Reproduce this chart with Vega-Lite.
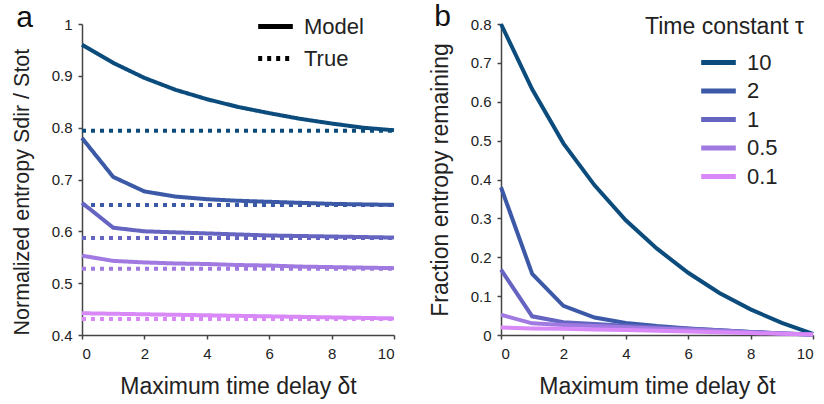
{
  "$schema": "https://vega.github.io/schema/vega-lite/v6.json",
  "padding": {"left": 11, "top": 2, "right": 5, "bottom": 5},
  "spacing": 27,
  "config": {
    "font": "Liberation Sans",
    "view": {"stroke": null},
    "axis": {
      "grid": false,
      "domainColor": "#444",
      "domainWidth": 1.5,
      "tickColor": "#444",
      "tickWidth": 1.5,
      "tickSize": 4,
      "labelFontSize": 15,
      "labelColor": "#222",
      "labelFont": "Liberation Sans",
      "titleFont": "Liberation Sans",
      "titleFontSize": 23,
      "titleFontWeight": "normal",
      "titleColor": "#222"
    },
    "axisX": {"labelPadding": 7, "titlePadding": 14},
    "axisY": {"labelPadding": 6, "titlePadding": 18},
    "title": {"fontSize": 30, "fontWeight": "normal", "anchor": "start", "frame": "bounds", "color": "#111", "font": "Liberation Sans", "offset": -16, "baseline": "alphabetic", "dx": 5},
    "legend": {"labelFontSize": 22, "labelFont": "Liberation Sans", "labelColor": "#222", "titleFont": "Liberation Sans", "titleFontSize": 23, "titleFontWeight": "normal", "titleColor": "#222", "padding": 0}
  },
  "datasets": {
    "a": [
      {"tau": "10", "type": "Model", "t": 0, "v": 0.96},
      {"tau": "10", "type": "Model", "t": 1, "v": 0.925},
      {"tau": "10", "type": "Model", "t": 2, "v": 0.896},
      {"tau": "10", "type": "Model", "t": 3, "v": 0.873},
      {"tau": "10", "type": "Model", "t": 4, "v": 0.855},
      {"tau": "10", "type": "Model", "t": 5, "v": 0.84},
      {"tau": "10", "type": "Model", "t": 6, "v": 0.828},
      {"tau": "10", "type": "Model", "t": 7, "v": 0.817},
      {"tau": "10", "type": "Model", "t": 8, "v": 0.808},
      {"tau": "10", "type": "Model", "t": 9, "v": 0.8},
      {"tau": "10", "type": "Model", "t": 10, "v": 0.795},
      {"tau": "10", "type": "True", "t": 0, "v": 0.794},
      {"tau": "10", "type": "True", "t": 10, "v": 0.794},
      {"tau": "2", "type": "Model", "t": 0, "v": 0.78},
      {"tau": "2", "type": "Model", "t": 1, "v": 0.705},
      {"tau": "2", "type": "Model", "t": 2, "v": 0.677},
      {"tau": "2", "type": "Model", "t": 3, "v": 0.667},
      {"tau": "2", "type": "Model", "t": 4, "v": 0.662},
      {"tau": "2", "type": "Model", "t": 5, "v": 0.659},
      {"tau": "2", "type": "Model", "t": 6, "v": 0.657},
      {"tau": "2", "type": "Model", "t": 7, "v": 0.655},
      {"tau": "2", "type": "Model", "t": 8, "v": 0.653},
      {"tau": "2", "type": "Model", "t": 9, "v": 0.652},
      {"tau": "2", "type": "Model", "t": 10, "v": 0.651},
      {"tau": "2", "type": "True", "t": 0, "v": 0.651},
      {"tau": "2", "type": "True", "t": 10, "v": 0.651},
      {"tau": "1", "type": "Model", "t": 0, "v": 0.655},
      {"tau": "1", "type": "Model", "t": 1, "v": 0.607},
      {"tau": "1", "type": "Model", "t": 2, "v": 0.6},
      {"tau": "1", "type": "Model", "t": 3, "v": 0.598},
      {"tau": "1", "type": "Model", "t": 4, "v": 0.596},
      {"tau": "1", "type": "Model", "t": 5, "v": 0.594},
      {"tau": "1", "type": "Model", "t": 6, "v": 0.592},
      {"tau": "1", "type": "Model", "t": 7, "v": 0.591},
      {"tau": "1", "type": "Model", "t": 8, "v": 0.59},
      {"tau": "1", "type": "Model", "t": 9, "v": 0.589},
      {"tau": "1", "type": "Model", "t": 10, "v": 0.588},
      {"tau": "1", "type": "True", "t": 0, "v": 0.587},
      {"tau": "1", "type": "True", "t": 10, "v": 0.587},
      {"tau": "0.5", "type": "Model", "t": 0, "v": 0.553},
      {"tau": "0.5", "type": "Model", "t": 1, "v": 0.543},
      {"tau": "0.5", "type": "Model", "t": 2, "v": 0.54},
      {"tau": "0.5", "type": "Model", "t": 3, "v": 0.538},
      {"tau": "0.5", "type": "Model", "t": 4, "v": 0.537},
      {"tau": "0.5", "type": "Model", "t": 5, "v": 0.535},
      {"tau": "0.5", "type": "Model", "t": 6, "v": 0.534},
      {"tau": "0.5", "type": "Model", "t": 7, "v": 0.532},
      {"tau": "0.5", "type": "Model", "t": 8, "v": 0.531},
      {"tau": "0.5", "type": "Model", "t": 9, "v": 0.53},
      {"tau": "0.5", "type": "Model", "t": 10, "v": 0.529},
      {"tau": "0.5", "type": "True", "t": 0, "v": 0.528},
      {"tau": "0.5", "type": "True", "t": 10, "v": 0.528},
      {"tau": "0.1", "type": "Model", "t": 0, "v": 0.442},
      {"tau": "0.1", "type": "Model", "t": 1, "v": 0.441},
      {"tau": "0.1", "type": "Model", "t": 2, "v": 0.44},
      {"tau": "0.1", "type": "Model", "t": 3, "v": 0.439},
      {"tau": "0.1", "type": "Model", "t": 4, "v": 0.438},
      {"tau": "0.1", "type": "Model", "t": 5, "v": 0.437},
      {"tau": "0.1", "type": "Model", "t": 6, "v": 0.436},
      {"tau": "0.1", "type": "Model", "t": 7, "v": 0.435},
      {"tau": "0.1", "type": "Model", "t": 8, "v": 0.434},
      {"tau": "0.1", "type": "Model", "t": 9, "v": 0.433},
      {"tau": "0.1", "type": "Model", "t": 10, "v": 0.432},
      {"tau": "0.1", "type": "True", "t": 0, "v": 0.431},
      {"tau": "0.1", "type": "True", "t": 10, "v": 0.431}
    ],
    "b": [
      {"tau": "10", "t": 0, "v": 0.8},
      {"tau": "10", "t": 1, "v": 0.632},
      {"tau": "10", "t": 2, "v": 0.493},
      {"tau": "10", "t": 3, "v": 0.385},
      {"tau": "10", "t": 4, "v": 0.295},
      {"tau": "10", "t": 5, "v": 0.222},
      {"tau": "10", "t": 6, "v": 0.16},
      {"tau": "10", "t": 7, "v": 0.108},
      {"tau": "10", "t": 8, "v": 0.066},
      {"tau": "10", "t": 9, "v": 0.031},
      {"tau": "10", "t": 10, "v": 0.003},
      {"tau": "2", "t": 0, "v": 0.38},
      {"tau": "2", "t": 1, "v": 0.157},
      {"tau": "2", "t": 2, "v": 0.075},
      {"tau": "2", "t": 3, "v": 0.045},
      {"tau": "2", "t": 4, "v": 0.031},
      {"tau": "2", "t": 5, "v": 0.023},
      {"tau": "2", "t": 6, "v": 0.017},
      {"tau": "2", "t": 7, "v": 0.012},
      {"tau": "2", "t": 8, "v": 0.008},
      {"tau": "2", "t": 9, "v": 0.004},
      {"tau": "2", "t": 10, "v": 0.001},
      {"tau": "1", "t": 0, "v": 0.168},
      {"tau": "1", "t": 1, "v": 0.048},
      {"tau": "1", "t": 2, "v": 0.033},
      {"tau": "1", "t": 3, "v": 0.028},
      {"tau": "1", "t": 4, "v": 0.024},
      {"tau": "1", "t": 5, "v": 0.02},
      {"tau": "1", "t": 6, "v": 0.016},
      {"tau": "1", "t": 7, "v": 0.012},
      {"tau": "1", "t": 8, "v": 0.008},
      {"tau": "1", "t": 9, "v": 0.004},
      {"tau": "1", "t": 10, "v": 0.001},
      {"tau": "0.5", "t": 0, "v": 0.052},
      {"tau": "0.5", "t": 1, "v": 0.03},
      {"tau": "0.5", "t": 2, "v": 0.026},
      {"tau": "0.5", "t": 3, "v": 0.023},
      {"tau": "0.5", "t": 4, "v": 0.02},
      {"tau": "0.5", "t": 5, "v": 0.017},
      {"tau": "0.5", "t": 6, "v": 0.014},
      {"tau": "0.5", "t": 7, "v": 0.011},
      {"tau": "0.5", "t": 8, "v": 0.007},
      {"tau": "0.5", "t": 9, "v": 0.004},
      {"tau": "0.5", "t": 10, "v": 0.001},
      {"tau": "0.1", "t": 0, "v": 0.019},
      {"tau": "0.1", "t": 1, "v": 0.017},
      {"tau": "0.1", "t": 2, "v": 0.016},
      {"tau": "0.1", "t": 3, "v": 0.014},
      {"tau": "0.1", "t": 4, "v": 0.013},
      {"tau": "0.1", "t": 5, "v": 0.011},
      {"tau": "0.1", "t": 6, "v": 0.009},
      {"tau": "0.1", "t": 7, "v": 0.007},
      {"tau": "0.1", "t": 8, "v": 0.005},
      {"tau": "0.1", "t": 9, "v": 0.003},
      {"tau": "0.1", "t": 10, "v": 0.001}
    ]
  },
  "resolve": {"legend": {"color": "independent"}, "scale": {"color": "shared"}},
  "hconcat": [
    {
      "title": {"text": "a"},
      "width": 312,
      "height": 311,
      "data": {"name": "a"},
      "mark": {"type": "line", "strokeWidth": 4, "strokeCap": "butt"},
      "encoding": {
        "x": {"field": "t", "type": "quantitative", "scale": {"domain": [0, 10], "nice": false},
              "axis": {"values": [0, 2, 4, 6, 8, 10], "title": "Maximum time delay δt"}},
        "y": {"field": "v", "type": "quantitative", "scale": {"domain": [0.4, 1], "nice": false, "zero": false},
              "axis": {"values": [0.4, 0.5, 0.6, 0.7, 0.8, 0.9, 1], "labelExpr": "datum.value == 1 ? '1' : format(datum.value, '.1f')", "title": "Normalized entropy Sdir / Stot", "titleFontSize": 21.5, "titleAnchor": "start"}},
        "color": {"field": "tau", "type": "nominal",
                  "scale": {"domain": ["10", "2", "1", "0.5", "0.1"], "range": ["#0b4c7d", "#3b59a6", "#6565c1", "#a07ae0", "#d888f7"]},
                  "legend": null},
        "strokeDash": {"field": "type", "type": "nominal",
                       "scale": {"domain": ["Model", "True"], "range": [[1, 0], [4, 5]]},
                       "legend": {"title": null, "orient": "none", "legendX": 182, "legendY": -9, "symbolType": "M-2,0H2", "symbolSize": 300, "symbolStrokeWidth": 5, "symbolStrokeColor": "black", "rowPadding": 9, "labelOffset": 17}},
        "order": {"field": "t", "type": "quantitative"}
      }
    },
    {
      "title": {"text": "b"},
      "width": 312,
      "height": 311,
      "data": {"name": "b"},
      "mark": {"type": "line", "strokeWidth": 4, "strokeCap": "butt"},
      "encoding": {
        "x": {"field": "t", "type": "quantitative", "scale": {"domain": [0, 10], "nice": false},
              "axis": {"values": [0, 2, 4, 6, 8, 10], "title": "Maximum time delay δt"}},
        "y": {"field": "v", "type": "quantitative", "scale": {"domain": [0, 0.8], "nice": false},
              "axis": {"values": [0, 0.1, 0.2, 0.3, 0.4, 0.5, 0.6, 0.7, 0.8], "labelExpr": "datum.value == 0 ? '0' : format(datum.value, '.1f')", "title": "Fraction entropy remaining"}},
        "color": {"field": "tau", "type": "nominal",
                  "scale": {"domain": ["10", "2", "1", "0.5", "0.1"], "range": ["#0b4c7d", "#3b59a6", "#6565c1", "#a07ae0", "#d888f7"]},
                  "legend": {"title": "Time constant τ", "orient": "none", "legendX": 144, "legendY": -8, "symbolType": "M-2,0H2", "symbolSize": 300, "symbolStrokeWidth": 5, "symbolOffset": 62, "rowPadding": 5.5, "labelOffset": 17, "titlePadding": 12}},
        "order": {"field": "t", "type": "quantitative"}
      }
    }
  ]
}
